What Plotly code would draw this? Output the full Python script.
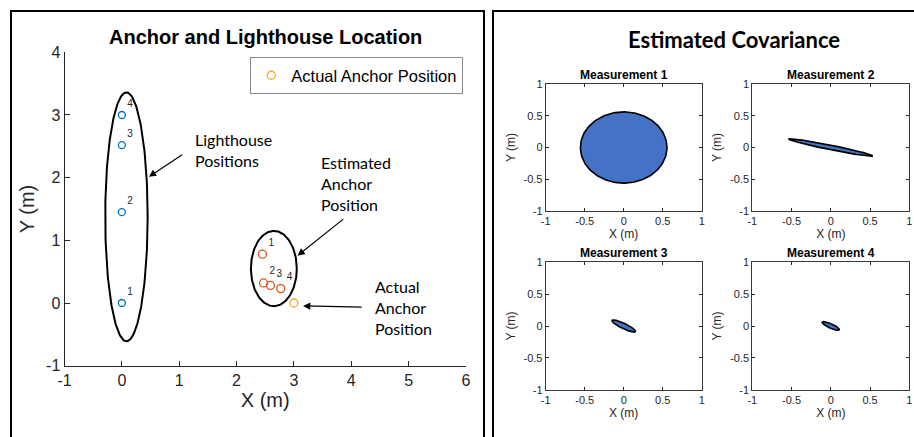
import numpy as np
import plotly.graph_objects as go

W, H = 914, 437

# ---------------- data ----------------
lighthouse_x = [0.0, 0.0, 0.0, 0.0]
lighthouse_y = [0.0, 1.45, 2.52, 3.0]
lighthouse_labels = ["1", "2", "3", "4"]

est_anchor_x = [2.45, 2.47, 2.59, 2.77]
est_anchor_y = [0.78, 0.32, 0.28, 0.23]
est_anchor_labels = ["1", "2", "3", "4"]

actual_anchor_x = [3.0]
actual_anchor_y = [0.0]

# grouping ellipses in the main plot: centre x, centre y, half-width, half-height
group_cx = [0.08, 2.65]
group_cy = [1.375, 0.55]
group_rx = [0.37, 0.40]
group_ry = [1.985, 0.60]

# covariance ellipses: semi-major, semi-minor, angle (deg)
cov_titles = ["Measurement 1", "Measurement 2", "Measurement 3", "Measurement 4"]
cov_a = [0.555, 0.55, 0.175, 0.125]
cov_b = [0.555, 0.035, 0.04, 0.033]
cov_angle = [0.0, -14.0, -31.0, -30.0]
cov_stretch_y = [1.01, 1.0, 1.0, 1.0]

main_xticks = [-1, 0, 1, 2, 3, 4, 5, 6]
main_xticklabels = ["-1", "0", "1", "2", "3", "4", "5", "6"]
main_yticks = [-1, 0, 1, 2, 3, 4]
main_yticklabels = ["-1", "0", "1", "2", "3", "4"]
sub_ticks = [-1, -0.5, 0, 0.5, 1]
sub_ticklabels = ["-1", "-0.5", "0", "0.5", "1"]

BLUE = "#0072BD"
ORANGE = "#D95319"
YELLOW = "#EDB120"
FILL = "#4472C4"
AXC = "#262626"


def px(x):
    return x / W


def py(y):
    return 1 - y / H


def ellipse(cx, cy, a, b, ang_deg, sy=1.0, n=200):
    t = np.linspace(0, 2 * np.pi, n)
    ang = np.deg2rad(ang_deg)
    x = a * np.cos(t)
    y = b * np.sin(t) * sy
    return cx + x * np.cos(ang) - y * np.sin(ang), cy + x * np.sin(ang) + y * np.cos(ang)


fig = go.Figure()

# ---- main plot ----
for cx, cy, rx, ry in zip(group_cx, group_cy, group_rx, group_ry):
    ex, ey = ellipse(cx, cy, rx, ry, 0.0)
    fig.add_trace(go.Scatter(x=ex, y=ey, mode="lines", line=dict(color="black", width=2),
                             showlegend=False, hoverinfo="skip", xaxis="x", yaxis="y"))

fig.add_trace(go.Scatter(
    x=lighthouse_x, y=lighthouse_y, mode="markers+text", text=lighthouse_labels,
    textposition="top right", textfont=dict(size=10, color=AXC, family="Liberation Sans"),
    marker=dict(symbol="circle-open", size=7, color=BLUE, line=dict(width=1.3)),
    showlegend=False, name="Lighthouse Positions", xaxis="x", yaxis="y"))

fig.add_trace(go.Scatter(
    x=est_anchor_x, y=est_anchor_y, mode="markers+text", text=est_anchor_labels,
    textposition="top right", textfont=dict(size=10, color=AXC, family="Liberation Sans"),
    marker=dict(symbol="circle-open", size=8, color=ORANGE, line=dict(width=1.3)),
    showlegend=False, name="Estimated Anchor Position", xaxis="x", yaxis="y"))

fig.add_trace(go.Scatter(
    x=actual_anchor_x, y=actual_anchor_y, mode="markers",
    marker=dict(symbol="circle-open", size=8, color=YELLOW, line=dict(width=1.3)),
    showlegend=True, name="Actual Anchor Position", xaxis="x", yaxis="y"))

# ---- covariance subplots ----
sub_dom_x = [[545.7, 701.7], [752.3, 909.3], [545.7, 701.7], [752.3, 909.3]]
sub_dom_y = [[84, 211], [84, 211], [262.3, 389.7], [262.3, 389.7]]

layout_axes = {}
annotations = []
for i in range(4):
    xa = f"x{i + 2}"
    ya = f"y{i + 2}"
    ex, ey = ellipse(0.0, 0.0, cov_a[i], cov_b[i], cov_angle[i], cov_stretch_y[i])
    fig.add_trace(go.Scatter(x=ex, y=ey, mode="lines", fill="toself", fillcolor=FILL,
                             line=dict(color="black", width=1.6), showlegend=False,
                             hoverinfo="skip", xaxis=xa, yaxis=ya))
    dx = sub_dom_x[i]
    dy = sub_dom_y[i]
    common = dict(range=[-1, 1], tickvals=sub_ticks, ticktext=sub_ticklabels, automargin=False,
                  ticks="inside", ticklen=3, tickcolor=AXC, showline=True, linecolor="#3a3a3a",
                  linewidth=1, mirror="ticks", showgrid=False, zeroline=False,
                  tickfont=dict(size=11, color=AXC, family="Liberation Sans"))
    layout_axes[f"xaxis{i + 2}"] = dict(domain=[px(dx[0]), px(dx[1])], anchor=ya,
                                        title=dict(text="X (m)", standoff=2,
                                                   font=dict(size=12, color=AXC, family="Liberation Sans")),
                                        **common)
    layout_axes[f"yaxis{i + 2}"] = dict(domain=[py(dy[1]), py(dy[0])], anchor=xa,
                                        title=dict(text="Y (m)", standoff=5,
                                                   font=dict(size=12, color=AXC, family="Liberation Sans")),
                                        **common)
    annotations.append(dict(text=f"<b>{cov_titles[i]}</b>", x=px((dx[0] + dx[1]) / 2), y=py(dy[0] - 9),
                            xref="paper", yref="paper", showarrow=False, xanchor="center", yanchor="middle",
                            font=dict(size=12, color="black", family="Liberation Sans")))

# ---- text annotations in main plot ----
label_font = dict(size=16, color="black", family="Lato")
annotations += [
    dict(text="<b>Anchor and Lighthouse Location</b>", x=px(265), y=py(37), xref="paper", yref="paper",
         xanchor="center", yanchor="middle",
         showarrow=False, font=dict(size=20, color="black", family="Liberation Sans")),
    dict(text="<b>Estimated Covariance</b>", x=px(734), y=py(39), xref="paper", yref="paper",
         xanchor="center", yanchor="middle",
         showarrow=False, font=dict(size=22, color="black", family="Lato")),
    dict(text="Lighthouse<br>Positions", x=px(193), y=py(150), xref="paper", yref="paper",
         xanchor="left", yanchor="middle", align="left", showarrow=False, font=label_font),
    dict(text="Estimated<br>Anchor<br>Position", x=px(319), y=py(183), xref="paper", yref="paper",
         xanchor="left", yanchor="middle", align="left", showarrow=False, font=label_font),
    dict(text="Actual<br>Anchor<br>Position", x=px(373), y=py(307), xref="paper", yref="paper",
         xanchor="left", yanchor="middle", align="left", showarrow=False, font=label_font),
    # arrows
    dict(x=0.472, y=2.016, ax=1.077, ay=2.383, xref="x", yref="y", axref="x", ayref="y", text="",
         showarrow=True, arrowhead=2, arrowsize=1.2, arrowwidth=1.2, arrowcolor="black"),
    dict(x=3.063, y=0.756, ax=3.887, ay=1.357, xref="x", yref="y", axref="x", ayref="y", text="",
         showarrow=True, arrowhead=2, arrowsize=1.2, arrowwidth=1.2, arrowcolor="black"),
    dict(x=3.16, y=-0.046, ax=4.206, ay=-0.067, xref="x", yref="y", axref="x", ayref="y", text="",
         showarrow=True, arrowhead=2, arrowsize=1.2, arrowwidth=1.2, arrowcolor="black"),
]

shapes = [
    dict(type="rect", xref="paper", yref="paper", x0=px(11), x1=px(484), y0=py(445), y1=py(11),
         line=dict(color="black", width=2)),
    dict(type="rect", xref="paper", yref="paper", x0=px(493), x1=px(925), y0=py(445), y1=py(11),
         line=dict(color="black", width=2)),
]

fig.update_layout(
    width=W, height=H, margin=dict(l=0, r=0, t=0, b=0, autoexpand=False),
    plot_bgcolor="white", paper_bgcolor="white",
    xaxis=dict(domain=[px(64.5), px(466)], range=[-1, 6], tickvals=main_xticks, ticktext=main_xticklabels,
               anchor="y", automargin=False,
               ticks="inside", ticklen=5, tickcolor=AXC, showline=True, linecolor=AXC, linewidth=1,
               showgrid=False, zeroline=False,
               tickfont=dict(size=16, color=AXC, family="Liberation Sans"),
               title=dict(text="X (m)", standoff=4, font=dict(size=20, color=AXC, family="Liberation Sans"))),
    yaxis=dict(domain=[py(365.7), py(52.3)], range=[-1, 4], tickvals=main_yticks, ticktext=main_yticklabels,
               anchor="x", automargin=False,
               ticks="inside", ticklen=5, tickcolor=AXC, showline=True, linecolor=AXC, linewidth=1,
               showgrid=False, zeroline=False,
               tickfont=dict(size=16, color=AXC, family="Liberation Sans"),
               title=dict(text="Y (m)", standoff=6, font=dict(size=20, color=AXC, family="Liberation Sans"))),
    legend=dict(x=px(250.3), y=py(57), xanchor="left", yanchor="top", bordercolor="#8a8a8a",
                borderwidth=1, bgcolor="white", font=dict(size=16.5, color="black", family="Liberation Sans"),
                itemwidth=30, tracegroupgap=0),
    annotations=annotations,
    shapes=shapes,
    **layout_axes,
)

fig.write_html("out.html", config={"displayModeBar": False},
               post_script="document.body.style.margin='0';document.body.style.overflow='hidden';")
